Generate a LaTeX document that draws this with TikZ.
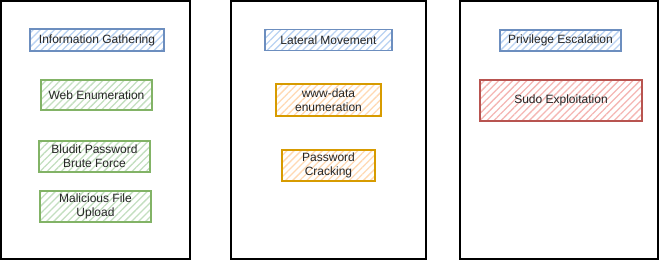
\documentclass[tikz,border=0pt]{standalone}
\usepackage{fontspec}
\setmainfont{Liberation Sans}
\usetikzlibrary{patterns.meta}
\definecolor{blueline}{HTML}{6C8EBF}
\definecolor{bluefill}{HTML}{B9D2F2}
\definecolor{greenline}{HTML}{82B366}
\definecolor{greenfill}{HTML}{C3DFC0}
\definecolor{orangeline}{HTML}{D79B00}
\definecolor{orangefill}{HTML}{FFD9B3}
\definecolor{redline}{HTML}{B85450}
\definecolor{redfill}{HTML}{F5B7B4}
\tikzset{
	phase/.style={
		rectangle,
		draw=black,
		line width=1.1pt,
		fill=white,
	},
	step box/.style 2 args={
		rectangle,
		draw=#1,
		line width=1.1pt,
		pattern={Lines[angle=45,distance=5pt,line width=1.3pt]},
		pattern color=#2,
		align=center,
		text=black!85,
		font=\fontsize{12}{14}\selectfont,
		inner sep=0pt,
	},
	title/.style={step box={blueline}{bluefill}},
	recon/.style={step box={greenline}{greenfill}},
	lateral/.style={step box={orangeline}{orangefill}},
	escalate/.style={step box={redline}{redfill}},
}

\begin{document}
\begin{tikzpicture}[x=1pt, y=-1pt]
		\useasboundingbox (0,0) rectangle (661,261);
		
		\node [phase, minimum width=189pt, minimum height=258pt] (p1) at (95.5,130) {};
		\node [phase, minimum width=195pt, minimum height=258pt] (p2) at (328.5,130) {};
		\node [phase, minimum width=198pt, minimum height=258pt] (p3) at (559,130) {};
		
		\node [title, minimum width=134pt, minimum height=22pt] (info) at (97,40) {Information Gathering};
		\node [recon, minimum width=111pt, minimum height=30pt] (web) at (96.5,95) {Web Enumeration};
		\node [recon, minimum width=111pt, minimum height=31pt] (brute) at (94.5,156.5) {Bludit Password\\Brute Force};
		\node [recon, minimum width=111pt, minimum height=31pt] (upload) at (95.5,206.5) {Malicious File\\Upload};
		
		\node [title, minimum width=127pt, minimum height=21pt] (lat) at (328.5,40) {Lateral Movement};
		\node [lateral, minimum width=105pt, minimum height=32pt] (wwwdata) at (328.5,100) {www-data\\enumeration};
		\node [lateral, minimum width=93pt, minimum height=31pt] (crack) at (328.5,165.5) {Password\\Cracking};
		
		\node [title, minimum width=121pt, minimum height=21pt] (priv) at (560.5,40.5) {Privilege Escalation};
		\node [escalate, minimum width=162pt, minimum height=41pt] (sudo) at (561,100.5) {Sudo Exploitation};
	\end{tikzpicture}
\end{document}
